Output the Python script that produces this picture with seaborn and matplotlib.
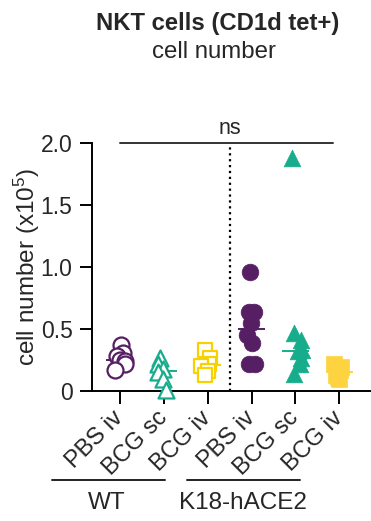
import numpy as np
import pandas as pd
import matplotlib
matplotlib.use("Agg")
import matplotlib.pyplot as plt
from matplotlib.lines import Line2D
import seaborn as sns

sns.set_style("ticks")
plt.rcParams["font.family"] = ["Liberation Sans", "DejaVu Sans"]
plt.rcParams["mathtext.fontset"] = "custom"
plt.rcParams["mathtext.rm"] = "Liberation Sans"
plt.rcParams["mathtext.it"] = "Liberation Sans"

# NKT cell counts (x10^5) per mouse
groups = ["WT PBS iv", "WT BCG sc", "WT BCG iv",
          "K18 PBS iv", "K18 BCG sc", "K18 BCG iv"]
tick_labels = ["PBS iv", "BCG sc", "BCG iv", "PBS iv", "BCG sc", "BCG iv"]
wt_pbs_iv = [0.37, 0.31, 0.28, 0.25, 0.24, 0.22, 0.17]
wt_bcg_sc = [0.27, 0.22, 0.18, 0.15, 0.10, 0.01]
wt_bcg_iv = [0.33, 0.27, 0.22, 0.20, 0.16, 0.13]
k18_pbs_iv = [0.96, 0.64, 0.64, 0.55, 0.45, 0.39, 0.22, 0.22]
k18_bcg_sc = [1.88, 0.47, 0.41, 0.33, 0.32, 0.27, 0.22, 0.14]
k18_bcg_iv = [0.22, 0.19, 0.17, 0.155, 0.13, 0.115, 0.10]
values = [wt_pbs_iv, wt_bcg_sc, wt_bcg_iv, k18_pbs_iv, k18_bcg_sc, k18_bcg_iv]

purple = "#561f63"
green = "#17ad8c"
yellow_line = "#f8d100"
yellow_fill = "#fdd43f"
colors = [purple, green, yellow_line, purple, green, yellow_fill]
markers = ["o", "^", "s", "o", "^", "s"]
sizes = [11.5, 11.5, 10.5, 12, 12, 11]
filled = [False, False, False, True, True, True]

fig = plt.figure(figsize=(3.71, 5.21), dpi=100)
ax = fig.add_axes([0.248, 0.2495, 0.749, 0.476])

np.random.seed(3)
for i, (g, vals) in enumerate(zip(groups, values)):
    df = pd.DataFrame({"group": g, "value": vals})
    # median bar sits behind the points
    med = float(np.median(vals))
    ax.hlines(med, i - 0.31, i + 0.31, color=colors[i], lw=1.4, zorder=2)
    n_before = len(ax.collections)
    sns.stripplot(data=df, x="group", y="value", order=groups, ax=ax,
                  marker=markers[i], size=sizes[i], jitter=0.15,
                  color=colors[i], linewidth=0, zorder=3)
    for coll in ax.collections[n_before:]:
        coll.set_clip_on(False)
        coll.set_zorder(3)
        if filled[i]:
            coll.set_facecolor(colors[i])
            coll.set_edgecolor(colors[i])
            coll.set_linewidth(0.5)
        else:
            coll.set_facecolor("white")
            coll.set_edgecolor(colors[i])
            coll.set_linewidth(1.6)

ax.set_xlim(-0.64, 5.7)
ax.set_ylim(0, 2.0)
ax.set_yticks([0, 0.5, 1.0, 1.5, 2.0])
ax.set_yticklabels(["0", "0.5", "1.0", "1.5", "2.0"], fontsize=16.5)
ax.set_xticks(range(len(groups)))
ax.set_xticklabels(tick_labels, fontsize=17, rotation=45, ha="right",
                   va="center", rotation_mode="anchor")
ax.set_xlabel("")
ax.set_ylabel(r"cell number (x10$^5$)", fontsize=17.5, labelpad=-1)
ax.tick_params(axis="both", length=9, width=1.4, color="black", pad=5)
ax.tick_params(axis="x", pad=8)
for side in ["left", "bottom"]:
    ax.spines[side].set_linewidth(1.4)
    ax.spines[side].set_color("black")
sns.despine(ax=ax)

# divider between genotypes and overall comparison bar
ax.plot([2.5, 2.5], [0, 2.0], ls=":", lw=1.6, color="black", zorder=1,
        clip_on=False)
ax.plot([0, 4.85], [2.0, 2.0], lw=1.4, color="#333333", clip_on=False)
ax.text(2.5, 2.03, "ns", ha="center", va="bottom", fontsize=15.5)

# genotype brackets under the tick labels
fig.add_artist(Line2D([0.140, 0.445], [0.0787, 0.0787], lw=1.4, color="#222222"))
fig.add_artist(Line2D([0.504, 0.809], [0.0787, 0.0787], lw=1.4, color="#222222"))
fig.text(0.2876, 0.034, "WT", ha="center", va="center", fontsize=17.5)
fig.text(0.654, 0.034, "K18-hACE2", ha="center", va="center", fontsize=17.5)

fig.text(0.588, 0.954, "NKT cells (CD1d tet+)", ha="center", va="center",
         fontsize=17.2, fontweight="bold")
fig.text(0.578, 0.900, "cell number", ha="center", va="center", fontsize=17.3)

fig.savefig("out.png", dpi=100)
